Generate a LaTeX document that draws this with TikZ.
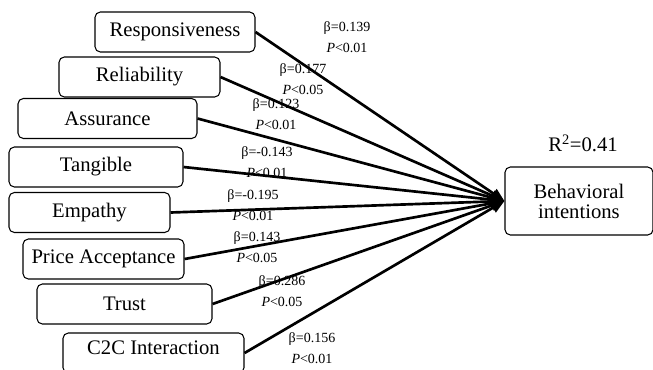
\documentclass[tikz,border=0pt]{standalone}
\usepackage{fontspec}
\setmainfont{Liberation Serif}
\usetikzlibrary{arrows.meta}

\begin{document}
\begin{tikzpicture}[x=0.75pt,y=-0.75pt,
factor/.style={draw,rounded corners=4pt,line width=0.8pt,minimum height=30pt,inner sep=0pt,font=\fontsize{15.5}{17}\selectfont},
coef/.style={align=center,inner sep=0pt,font=\fontsize{10.5}{15.75}\selectfont},
effect/.style={line width=2pt,-{Triangle[length=10pt,width=8pt]}}]
\useasboundingbox (0,0) rectangle (653,369);
\node[factor,minimum width=120pt] (resp) at (175,32) {Responsiveness};
\node[factor,minimum width=120.75pt] (reli) at (139.5,77) {Reliability};
\node[factor,minimum width=134.25pt] (assu) at (107.5,118.5) {Assurance};
\node[factor,minimum width=130.5pt] (tang) at (96,167) {Tangible};
\node[factor,minimum width=120.75pt] (empa) at (89.5,212.5) {Empathy};
\node[factor,minimum width=120.75pt] (pric) at (103.5,259) {Price Acceptance};
\node[factor,minimum width=131.25pt] (trus) at (124.5,304) {Trust};
\node[factor,minimum width=135.75pt,text depth=7.5pt] (ctoc) at (153.5,353) {C2C Interaction};
\node[factor,minimum width=111pt,minimum height=51pt,align=center,font=\fontsize{15.5}{15}\selectfont] (bi) at (579,201) {Behavioral\\intentions};
\node[font=\fontsize{15.5}{17}\selectfont] (rsq) at (583,143) {R\textsuperscript{2}=0.41};
\node[coef] (c1) at (347,37.5) {β=0.139\\\textit{P}<0.01};
\node[coef] (c2) at (303,79.5) {β=0.177\\\textit{P}<0.05};
\node[coef] (c3) at (276,114) {β=0.123\\\textit{P}<0.01};
\node[coef] (c4) at (267,162.5) {β=-0.143\\\textit{P}<0.01};
\node[coef] (c5) at (253,205) {β=-0.195\\\textit{P}<0.01};
\node[coef] (c6) at (257,247.5) {β=0.143\\\textit{P}<0.05};
\node[coef] (c7) at (282,291) {β=0.286\\\textit{P}<0.05};
\node[coef] (c8) at (312,348) {β=0.156\\\textit{P}<0.01};
\draw[effect] (resp.east) -- (bi.west);
\draw[effect] (reli.east) -- (bi.west);
\draw[effect] (assu.east) -- (bi.west);
\draw[effect] (tang.east) -- (bi.west);
\draw[effect] (empa.east) -- (bi.west);
\draw[effect] (pric.east) -- (bi.west);
\draw[effect] (trus.east) -- (bi.west);
\draw[effect] (ctoc.east) -- (bi.west);
\end{tikzpicture}
\end{document}
